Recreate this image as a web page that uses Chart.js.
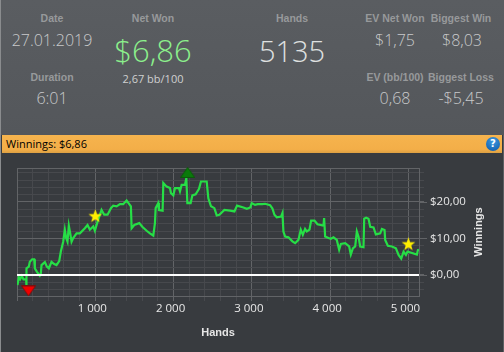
<!DOCTYPE html>
<html lang="en">
<head>
<meta charset="UTF-8" />
<title>Session summary</title>
<script src="https://cdn.jsdelivr.net/npm/chart.js"></script>
<style>
  html, body { margin:0; padding:0; background:#383b3f; }
  #page { position:relative; width:504px; height:352px; overflow:hidden; font-family:'Open Sans',sans-serif; background:#383b3f; }
  #head { position:absolute; left:0; top:0; width:504px; height:135px; background:linear-gradient(#5a5d61,#54575b); }
  #edgeL { position:absolute; left:0; top:0; width:1px; height:352px; background:#8a8c8e; }
  #edgeR { position:absolute; right:0; top:135px; width:1px; height:217px; background:#5c5f62; }
  .t { position:absolute; transform:translate(-50%,-50%); white-space:nowrap; }
  .lbl { font:bold 10.5px 'Liberation Sans',sans-serif; color:#97999b; }
  .val { font:300 16px 'Open Sans',sans-serif; color:#c9cacb; }
  .big { font:300 29px 'Open Sans',sans-serif; color:#dfe0e0; }
  .money { font-size:31px; color:#8cf08c; }
  .sub { font:11px 'Open Sans',sans-serif; color:#cfd0d0; }
  #bar { position:absolute; left:2px; top:135px; width:500px; height:18px; background:linear-gradient(#f6b44e,#f3ae48 80%,#dca043); color:#000; font:11px/18px 'Open Sans',sans-serif; padding-left:4px; box-sizing:border-box; }
  #help { position:absolute; left:486px; top:137px; width:14px; height:14px; border-radius:50%; background:radial-gradient(circle at 50% 30%,#3f9be0,#0a56a8); color:#fff; font:bold 10px/14px 'DejaVu Sans',sans-serif; text-align:center; }
  #chartBox { position:absolute; left:0; top:153px; width:504px; height:199px; }
  #yTitle { position:absolute; left:478px; top:232px; transform:translate(-50%,-50%) rotate(-90deg); font:bold 11px 'Liberation Sans',sans-serif; color:#e6e6e6; white-space:nowrap; }
</style>
</head>
<body>
<div id="page">
  <div id="head"></div>
  <div class="t lbl" style="left:52px;top:18px">Date</div>
  <div class="t val" style="left:52px;top:40px">27.01.2019</div>
  <div class="t lbl" style="left:52px;top:77px">Duration</div>
  <div class="t val" style="left:52px;top:98px">6:01</div>
  <div class="t lbl" style="left:153px;top:18px">Net Won</div>
  <div class="t big money" style="left:153px;top:50px">$6,86</div>
  <div class="t sub" style="left:153px;top:78px">2,67 bb/100</div>
  <div class="t lbl" style="left:292px;top:18px">Hands</div>
  <div class="t big" style="left:292px;top:50px">5135</div>
  <div class="t lbl" style="left:395px;top:18px">EV Net Won</div>
  <div class="t val" style="left:395px;top:40px">$1,75</div>
  <div class="t lbl" style="left:461px;top:18px">Biggest Win</div>
  <div class="t val" style="left:462px;top:40px">$8,03</div>
  <div class="t lbl" style="left:395px;top:77px">EV (bb/100)</div>
  <div class="t val" style="left:395px;top:98px">0,68</div>
  <div class="t lbl" style="left:461px;top:77px">Biggest Loss</div>
  <div class="t val" style="left:461px;top:98px">-$5,45</div>
  <div id="bar">Winnings: $6,86</div>
  <div id="help">?</div>
  <div id="chartBox"><canvas id="chart" width="504" height="199"></canvas></div>
  <div id="yTitle">Winnings</div>
  <div id="edgeL"></div>
  <div id="edgeR"></div>
</div>

<script>
// values
const hands = [6,23,40,61,83,100,117,121,121,151,164,194,219,228,253,291,304,313,356,381,407,441,475,505,539,560,590,611,628,645,662,680,697,718,761,803,867,901,931,974,995,1029,1080,1114,1157,1200,1229,1272,1315,1357,1400,1434,1455,1464,1498,1562,1600,1656,1698,1741,1762,1771,1805,1813,1860,1869,1911,1954,1967,1997,2018,2039,2069,2082,2103,2146,2163,2176,2218,2240,2282,2325,2350,2423,2444,2478,2521,2551,2585,2649,2721,2777,2811,2892,2935,2981,2998,3041,3075,3135,3169,3233,3263,3288,3318,3373,3391,3403,3425,3467,3518,3553,3595,3625,3651,3680,3702,3736,3757,3800,3838,3915,3923,3936,3979,4009,4043,4085,4115,4137,4192,4243,4264,4290,4320,4341,4362,4384,4426,4435,4460,4490,4512,4554,4584,4640,4661,4695,4703,4737,4789,4840,4874,4908,4938,4968,4989,5036,5108,5121,5135];
const winnings = [-2.8,-0.6,-1.2,-0.3,-1.2,-1.2,-1.4,-3.0,1.8,2.3,3.6,4.3,4.3,1.8,0.9,-0.2,0.3,2.7,3.5,2.3,1.8,3.6,3.0,2.7,3.8,6.4,9.1,12.4,10.1,9.1,13.5,11.4,9.1,10.1,11.4,11.4,12.8,13.7,12.4,13.3,12.1,14.6,17.8,16.5,16.5,18.3,19.0,18.8,19.4,19.4,20.4,19.4,18.8,12.8,13.7,14.2,13.2,12.1,11.4,10.8,14.2,18.3,19.7,17.8,17.6,25.2,24.2,23.8,22.4,21.8,23.8,23.8,23.8,22.9,24.7,24.7,26.5,19.7,19.7,21.8,22.1,23.6,25.6,25.6,21.0,18.8,18.3,16.3,16.5,17.8,17.6,17.4,19.0,18.5,18.1,18.5,19.7,19.2,19.4,19.4,19.5,19.1,18.2,16.5,15.8,16.0,17.0,11.9,10.5,10.3,9.2,8.7,9.6,12.4,11.0,12.6,11.9,12.4,14.9,14.9,13.9,13.5,15.6,10.5,10.1,9.9,10.3,9.6,6.9,8.5,8.7,7.8,5.6,7.3,7.8,11.9,10.5,7.8,7.6,15.4,15.7,15.4,13.2,13.0,11.1,11.4,12.6,12.3,9.6,8.0,7.8,7.3,5.5,4.5,6.4,5.5,6.4,6.1,5.6,6.8,6.86];
const zeroHands = [0,5135];
const zeroLine = [0,0];
const starHands = [1000,5000];
const starValues = [16.2,8.5];
const lowHands = [147];
const lowValues = [-4.4];
const highHands = [2180];
const highValues = [28.1];
const handsTicks = [1000,2000,3000,4000,5000];
const winningsTicks = [0,10,20];

function pts(xs, ys){ return xs.map((x,i) => ({x:x, y:ys[i]})); }

// filled marker images, the built in star is only an outline
function starImg(){
  const c = document.createElement('canvas'); c.width = 15; c.height = 15;
  const g = c.getContext('2d');
  g.beginPath();
  for(let i=0;i<10;i++){
    const r = i%2 ? 2.9 : 7.2, a = -Math.PI/2 + i*Math.PI/5;
    g.lineTo(7.5+r*Math.cos(a), 8+r*Math.sin(a));
  }
  g.closePath();
  g.fillStyle = '#ffee00'; g.fill();
  return c;
}
function triImg(up, fill, edge){
  const c = document.createElement('canvas'); c.width = 15; c.height = 11;
  const g = c.getContext('2d');
  g.beginPath();
  if(up){ g.moveTo(7.5,.5); g.lineTo(14.5,10.5); g.lineTo(.5,10.5); }
  else { g.moveTo(.5,.5); g.lineTo(14.5,.5); g.lineTo(7.5,10.5); }
  g.closePath();
  g.fillStyle = fill; g.fill();
  g.strokeStyle = edge; g.stroke();
  return c;
}

const majorGrid = '#626467', minorGrid = '#47494d';

const frame = {
  id:'frame',
  beforeDatasetsDraw(chart){
    const a = chart.chartArea, g = chart.ctx, y = chart.scales.y;
    g.save();
    g.strokeStyle = majorGrid; g.lineWidth = 1;
    g.strokeRect(Math.round(a.left)+.5, Math.round(a.top)+.5, Math.round(a.width), Math.round(a.height));
    // the labelled y ticks stick out further
    winningsTicks.forEach(v => {
      const p = Math.round(y.getPixelForValue(v))+.5;
      g.beginPath(); g.moveTo(a.right, p); g.lineTo(a.right+8, p); g.stroke();
    });
    g.restore();
  }
};

new Chart(document.getElementById('chart'), {
  type:'line',
  data:{datasets:[
    {data:pts(hands,winnings), borderColor:'#26de46', borderWidth:2.2, pointRadius:0, tension:0, order:3},
    {data:pts(zeroHands,zeroLine), borderColor:'#ffffff', borderWidth:2, pointRadius:0, order:2},
    {data:pts(starHands,starValues), showLine:false, pointStyle:starImg(), clip:false, order:1},
    {data:pts(lowHands,lowValues), showLine:false, pointStyle:triImg(false,'#f00000','#7a1010'), clip:false, order:1},
    {data:pts(highHands,highValues), showLine:false, pointStyle:triImg(true,'#0a7a0a','#0a5a0a'), clip:false, order:1}
  ]},
  plugins:[frame],
  options:{
    responsive:false, animation:false, devicePixelRatio:1,
    layout:{padding:{left:17, right:0, top:15, bottom:0}},
    plugins:{legend:{display:false}, tooltip:{enabled:false}},
    scales:{
      x:{
        type:'linear', min:0, max:5135,
        afterFit(s){ s.height = 56; },
        title:{display:true, text:'Hands', color:'#e6e6e6', font:{family:'Liberation Sans', size:11, weight:'bold'}, padding:{top:0, bottom:12}},
        grid:{color:c => c.tick.value%1000===0 ? majorGrid : minorGrid, tickLength:5, tickColor:c => c.tick.value%1000===0 ? majorGrid : minorGrid},
        border:{display:false},
        ticks:{stepSize:200, includeBounds:false, autoSkip:false, maxRotation:0, color:'#e8e8e8', labelOffset:-3, padding:1,
          font:{family:'Open Sans', size:11.5},
          callback:v => handsTicks.includes(v) ? String(v/1000)+' 000' : ''}
      },
      y:{
        type:'linear', position:'right', min:-5.77, max:29.3,
        afterFit(s){ s.width = 85; },
        grid:{color:c => c.tick.value%10===0 ? majorGrid : minorGrid, tickLength:5, tickColor:c => c.tick.value%10===0 ? majorGrid : minorGrid},
        border:{display:false},
        ticks:{stepSize:2, includeBounds:false, autoSkip:false, color:'#e8e8e8', padding:6,
          font:{family:'Open Sans', size:11.5},
          callback:v => winningsTicks.includes(Math.round(v)) ? '$'+Math.round(v)+',00' : ''}
      }
    }
  }
});
</script>
</body>
</html>
